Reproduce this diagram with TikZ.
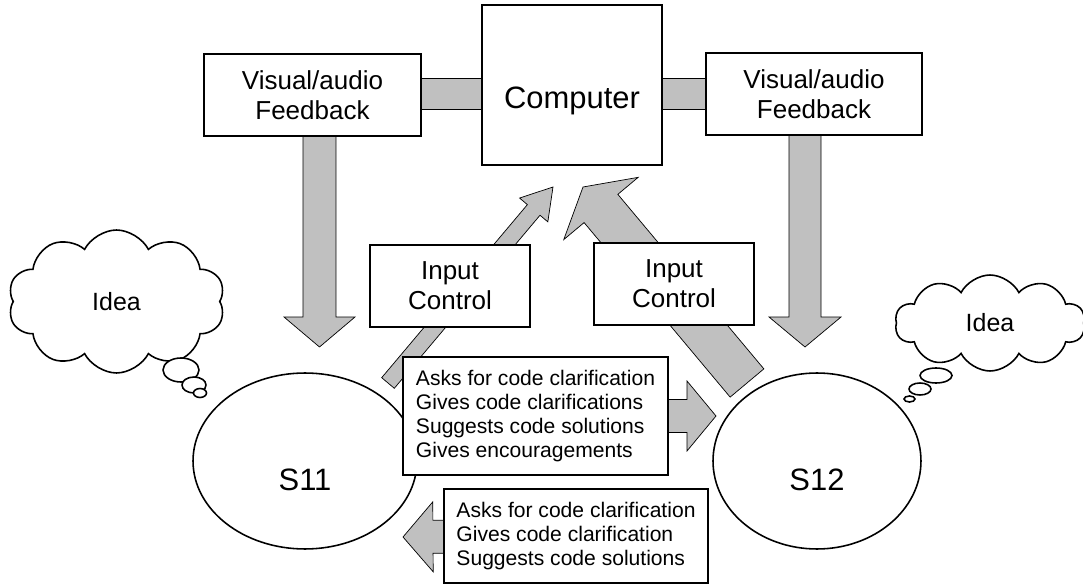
\documentclass[tikz,border=0pt]{standalone}
\usepackage{fontspec}
\setmainfont{Liberation Sans}
\usetikzlibrary{calc,shapes.geometric,shapes.symbols,backgrounds}
\definecolor{arrowgray}{RGB}{192,192,192}

% 块状箭头：#1 起点, #2 箭尖, #3 半杆宽, #4 半头宽, #5 头长
\newcommand{\blockarrow}[5]{%
  \path ($(#2)!#5!(#1)$) coordinate (ba-h);
  \draw[barrow] ($(#1)!#3!90:(#2)$) -- ($(ba-h)!#3!90:(#2)$) -- ($(ba-h)!#4!90:(#2)$) -- (#2)
    -- ($(ba-h)!#4!-90:(#2)$) -- ($(ba-h)!#3!-90:(#2)$) -- ($(#1)!#3!-90:(#2)$) -- cycle;
}

\begin{document}
\begin{tikzpicture}[x=0.02cm, y=-0.02cm, line width=0.9pt,
    box/.style={draw, fill=white, inner sep=0pt, align=center},
    bigtxt/.style={font=\fontsize{17.6}{20}\selectfont},
    midtxt/.style={font=\fontsize{14.8}{17}\selectfont},
    smalltxt/.style={font=\fontsize{12}{13.7}\selectfont},
    person/.style={draw, fill=white, ellipse, inner sep=0pt, minimum width=4.48cm, minimum height=3.52cm},
    thought/.style={draw, fill=white, cloud, cloud puffs=10, cloud puff arc=125, cloud ignores aspect,
      inner sep=0pt, font=\fontsize{14.2}{16}\selectfont},
    bubble/.style={draw, fill=white, ellipse, inner sep=0pt},
    barrow/.style={draw, fill=arrowgray}]
  \useasboundingbox (0,0) rectangle (1083,584);

  % 1. 计算机与反馈框
  \node[box, minimum width=3.6cm, minimum height=3.2cm,
    label={[bigtxt, yshift=-0.32cm]center:Computer}] (comp) at (572,85) {};
  \node[box, midtxt, minimum width=4.34cm, minimum height=1.64cm] (fbl) at (312.5,95) {Visual/audio\\Feedback};
  \node[box, midtxt, minimum width=4.32cm, minimum height=1.64cm] (fbr) at (814,94) {Visual/audio\\Feedback};

  % 2. 输入控制框
  \node[box, midtxt, minimum width=3.2cm, minimum height=1.64cm] (inl) at (450,286) {Input\\Control};
  \node[box, midtxt, minimum width=3.2cm, minimum height=1.64cm] (inr) at (674,284) {Input\\Control};

  % 3. 两名学生与交流内容
  \node[person, label={[bigtxt, yshift=-0.38cm]center:S11}] (s11) at (305,461) {};
  \node[person, minimum width=4.16cm, label={[bigtxt, yshift=-0.38cm]center:S12}] (s12) at (817,461) {};
  \node[box, smalltxt, align=left, minimum width=5.3cm, minimum height=2.36cm] (lsta) at (535.5,416)
    {Asks for code clarification\\Gives code clarifications\\Suggests code solutions\\Gives encouragements};
  \node[box, smalltxt, align=left, minimum width=5.28cm, minimum height=1.88cm] (lstb) at (576,536)
    {Asks for code clarification\\Gives code clarification\\Suggests code solutions};

  % 4. 想法云与气泡
  \node[thought, minimum width=4.34cm, minimum height=2.86cm] (ideal) at (116.5,301.5) {Idea};
  \node[bubble, minimum width=0.72cm, minimum height=0.48cm] (bl1) at (181,370) {};
  \node[bubble, minimum width=0.48cm, minimum height=0.32cm] (bl2) at (194,385) {};
  \node[bubble, minimum width=0.26cm, minimum height=0.18cm] (bl3) at (200,393) {};
  \node[thought, minimum width=3.8cm, minimum height=1.92cm] (idear) at (990,323) {Idea};
  \node[bubble, minimum width=0.64cm, minimum height=0.30cm] (br1) at (936,375.5) {};
  \node[bubble, minimum width=0.44cm, minimum height=0.24cm] (br2) at (920,389) {};
  \node[bubble, minimum width=0.22cm, minimum height=0.12cm] (br3) at (909.5,399) {};

  % 5. 箭头端点
  \coordinate (fbl-tip) at (319.5,347);
  \coordinate (fbl-out) at (fbl-tip |- fbl.center);
  \coordinate (fbr-tip) at (805,347);
  \coordinate (fbr-out) at (fbr-tip |- fbr.center);
  \coordinate (s11-out) at (388,383);
  \coordinate (comp-inl) at (553,187);
  \coordinate (s12-out) at (747,383);
  \coordinate (comp-inr) at (583,187);
  \coordinate (s12-in) at (716,416);
  \coordinate (s11-in) at (403,537);

  % 6. 灰色连接条与块状箭头 (放在底层)
  \begin{scope}[on background layer]
    \draw[barrow] (fbl.east |- 0,78) rectangle (comp.west |- 0,109);
    \draw[barrow] (comp.east |- 0,78) rectangle (fbr.west |- 0,109);
    \blockarrow{fbl-out}{fbl-tip}{0.33cm}{0.71cm}{0.6cm}
    \blockarrow{fbr-out}{fbr-tip}{0.32cm}{0.72cm}{0.6cm}
    \blockarrow{s11-out}{comp-inl}{0.165cm}{0.37cm}{0.6cm}
    \blockarrow{s12-out}{comp-inr}{0.44cm}{0.97cm}{0.56cm}
    \blockarrow{lsta}{s12-in}{0.33cm}{0.70cm}{0.58cm}
    \blockarrow{lstb}{s11-in}{0.33cm}{0.70cm}{0.6cm}
  \end{scope}
\end{tikzpicture}
\end{document}
